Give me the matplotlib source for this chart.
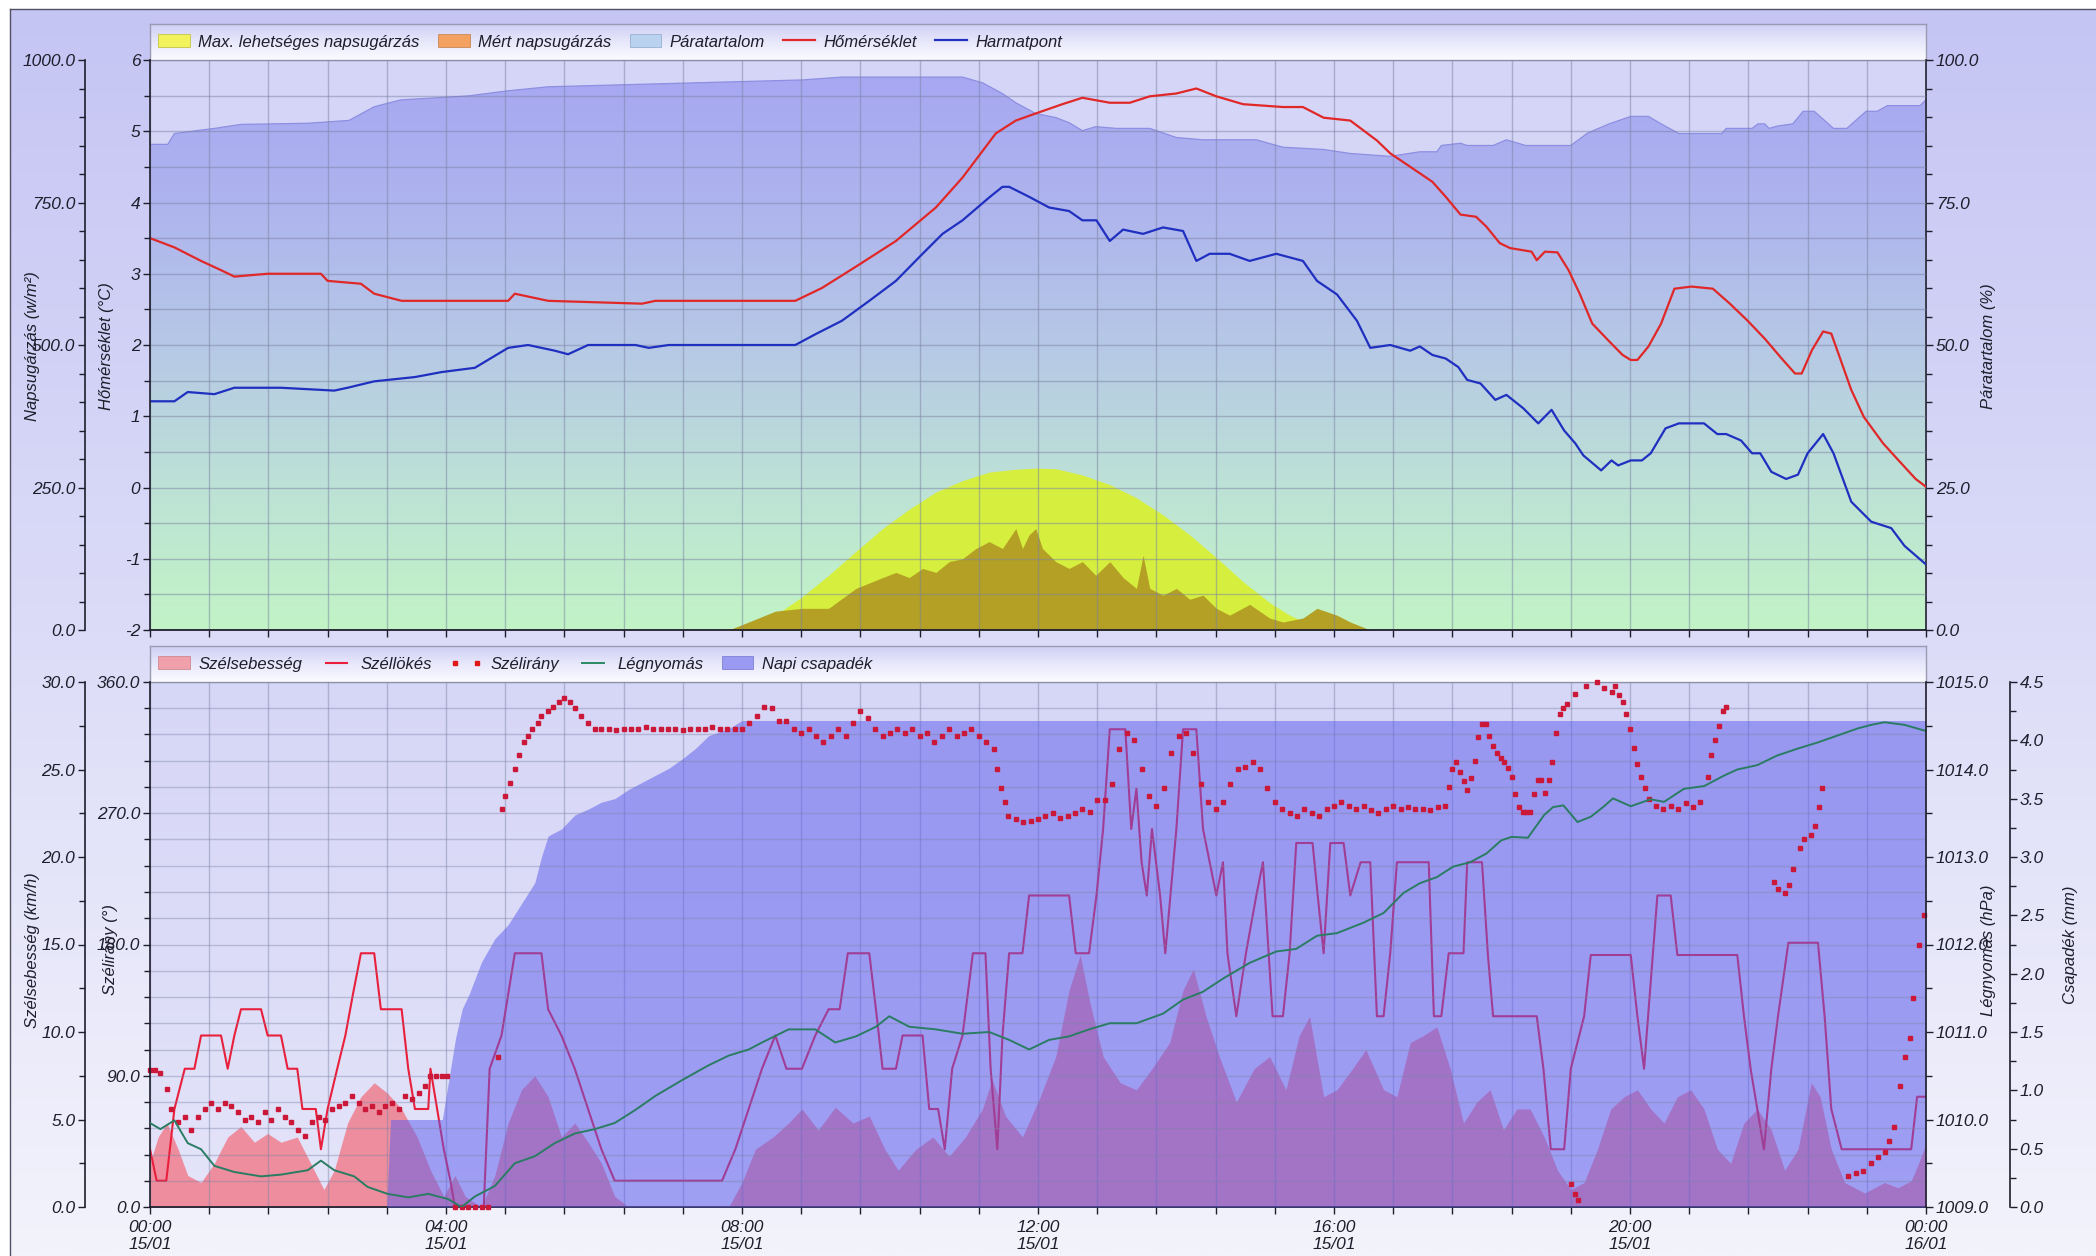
#!/usr/bin/env python3
"""
Napi időjárás grafikon (15/01):
  felső panel: napsugárzás, hőmérséklet, harmatpont, páratartalom
  alsó panel : szélsebesség, széllökés, szélirány, légnyomás, napi csapadék
"""

import matplotlib
matplotlib.use('Agg')
import matplotlib.pyplot as plt
from matplotlib.colors import LinearSegmentedColormap
from matplotlib.patches import Patch
from matplotlib.lines import Line2D
from matplotlib.ticker import MultipleLocator, FixedLocator, FormatStrFormatter
import numpy as np

# ── Style ────────────────────────────────────────────────────────────────────
plt.rcParams.update({
    'font.family': ['Liberation Sans Narrow', 'Liberation Sans', 'DejaVu Sans'],
    'font.style': 'italic',
    'font.size': 12.5,
    'axes.unicode_minus': False,
})

W, H, DPI = 2096, 1256, 100
INK = '#1e1e2c'
GRID = '#7c84a4'
TICK_FS = 12.5
LEGEND_FS = 12

# ── X axis (hours from 15/01 00:00) ─────────────────────────────────────────
HOUR_TICKS = [0, 4, 8, 12, 16, 20, 24]
TICK_LABELS = ['00:00\n15/01', '04:00\n15/01', '08:00\n15/01', '12:00\n15/01',
               '16:00\n15/01', '20:00\n15/01', '00:00\n16/01']

# ── Top panel data ───────────────────────────────────────────────────────────
TEMP_H = [0.00, 0.33, 0.69, 0.96, 1.14, 1.59, 2.31, 2.40, 2.85, 3.03,
          3.40, 4.84, 4.93, 5.38, 6.65, 6.83, 8.72, 9.08, 9.54, 10.08,
          10.62, 10.98, 11.43, 11.70, 11.97, 12.33, 12.60, 12.97, 13.24, 13.51,
          13.87, 14.14, 14.41, 14.77, 15.31, 15.58, 15.86, 16.22, 16.58, 16.76,
          17.16, 17.33, 17.51, 17.71, 17.92, 18.06, 18.24, 18.38, 18.67, 18.74,
          18.85, 19.02, 19.17, 19.32, 19.49, 19.72, 19.90, 20.01, 20.10, 20.25,
          20.42, 20.60, 20.83, 21.12, 21.35, 21.59, 21.82, 22.05, 22.23, 22.32,
          22.46, 22.61, 22.72, 22.84, 22.99, 23.16, 23.42, 23.63, 23.86, 24.00]
TEMP_V = [3.50, 3.37, 3.18, 3.05, 2.96, 3.00, 3.00, 2.90, 2.86, 2.72,
          2.62, 2.62, 2.72, 2.62, 2.58, 2.62, 2.62, 2.80, 3.10, 3.46,
          3.93, 4.35, 4.97, 5.15, 5.25, 5.38, 5.47, 5.40, 5.40, 5.49,
          5.53, 5.60, 5.49, 5.38, 5.34, 5.34, 5.19, 5.15, 4.87, 4.69,
          4.41, 4.29, 4.08, 3.83, 3.80, 3.66, 3.43, 3.36, 3.31, 3.19,
          3.31, 3.30, 3.05, 2.72, 2.30, 2.05, 1.86, 1.79, 1.79, 1.98,
          2.30, 2.79, 2.82, 2.79, 2.58, 2.34, 2.09, 1.81, 1.60, 1.60,
          1.93, 2.19, 2.16, 1.81, 1.37, 0.99, 0.62, 0.38, 0.12, 0.01]

DEW_H = [0.00, 0.33, 0.51, 0.87, 1.14, 1.77, 2.49, 2.67, 3.03, 3.58,
         3.94, 4.39, 4.84, 5.11, 5.47, 5.65, 5.92, 6.56, 6.74, 7.01,
         8.72, 8.99, 9.35, 9.72, 10.08, 10.44, 10.71, 10.98, 11.34, 11.52,
         11.61, 11.88, 12.15, 12.42, 12.60, 12.79, 12.97, 13.15, 13.42, 13.69,
         13.96, 14.14, 14.32, 14.59, 14.86, 15.22, 15.58, 15.77, 16.04, 16.31,
         16.49, 16.76, 17.03, 17.16, 17.33, 17.51, 17.68, 17.80, 17.98, 18.18,
         18.33, 18.56, 18.76, 18.94, 19.11, 19.26, 19.37, 19.61, 19.75, 19.84,
         20.01, 20.16, 20.28, 20.48, 20.66, 21.00, 21.18, 21.30, 21.50, 21.65,
         21.76, 21.91, 22.11, 22.27, 22.40, 22.61, 22.75, 22.99, 23.26, 23.53,
         23.71, 24.00]
DEW_V = [1.21, 1.21, 1.34, 1.31, 1.40, 1.40, 1.36, 1.40, 1.49, 1.55,
         1.62, 1.68, 1.96, 2.00, 1.92, 1.87, 2.00, 2.00, 1.96, 2.00,
         2.00, 2.15, 2.34, 2.62, 2.90, 3.28, 3.56, 3.75, 4.07, 4.22,
         4.22, 4.08, 3.93, 3.88, 3.75, 3.75, 3.46, 3.62, 3.56, 3.65,
         3.60, 3.18, 3.28, 3.28, 3.18, 3.28, 3.18, 2.90, 2.71, 2.34,
         1.96, 2.00, 1.92, 1.98, 1.86, 1.81, 1.69, 1.51, 1.46, 1.23,
         1.30, 1.11, 0.90, 1.09, 0.80, 0.62, 0.45, 0.24, 0.38, 0.31,
         0.38, 0.38, 0.48, 0.83, 0.90, 0.90, 0.75, 0.75, 0.66, 0.48,
         0.48, 0.22, 0.12, 0.18, 0.48, 0.75, 0.48, -0.20, -0.48, -0.57,
         -0.82, -1.08]

HUM_H = [0.00, 0.24, 0.33, 0.87, 1.23, 2.13, 2.69, 3.03, 3.39, 4.30,
         4.84, 5.38, 8.81, 9.35, 10.98, 11.25, 11.52, 11.70, 11.97, 12.24,
         12.42, 12.60, 12.78, 13.06, 13.51, 13.87, 14.23, 14.95, 15.31, 15.86,
         16.22, 16.76, 17.16, 17.39, 17.45, 17.71, 17.80, 18.15, 18.33, 18.59,
         19.20, 19.43, 19.72, 20.01, 20.25, 20.42, 20.66, 21.24, 21.30, 21.65,
         21.73, 21.82, 21.88, 21.99, 22.20, 22.34, 22.49, 22.75, 22.93, 23.19,
         23.34, 23.48, 23.92, 24.00]
HUM_V = [85.2, 85.2, 87.1, 88.0, 88.7, 88.9, 89.4, 91.8, 93.0, 93.7,
         94.6, 95.3, 96.5, 97.0, 97.0, 96.0, 94.1, 92.5, 90.6, 89.9,
         89.0, 87.6, 88.3, 88.0, 88.0, 86.4, 86.0, 86.0, 84.7, 84.3,
         83.6, 83.1, 83.9, 83.9, 85.0, 85.4, 85.0, 85.0, 86.0, 85.0,
         85.0, 87.2, 88.8, 90.1, 90.1, 88.8, 87.1, 87.1, 88.0, 88.0,
         88.8, 88.8, 88.0, 88.4, 88.8, 91.0, 91.0, 88.0, 88.0, 91.0,
         91.0, 92.0, 92.0, 93.0]

RAD_MAX_H = [7.82, 8.09, 8.45, 8.81, 9.17, 9.54, 9.90, 10.26, 10.62, 10.98,
             11.34, 11.70, 11.97, 12.24, 12.60, 12.97, 13.33, 13.69, 14.05, 14.41,
             14.77, 15.13, 15.40, 15.67, 16.04]
RAD_MAX_V = [0, 10, 26, 58, 96, 138, 178, 212, 242, 262,
             277, 282, 284, 283, 272, 255, 232, 202, 167, 127,
             85, 48, 26, 10, 0]

RAD_H = [7.82, 8.09, 8.45, 8.81, 9.17, 9.54, 9.90, 10.08, 10.26, 10.44,
         10.62, 10.80, 10.98, 11.16, 11.34, 11.52, 11.70, 11.79, 11.88, 11.97,
         12.06, 12.24, 12.42, 12.60, 12.78, 12.97, 13.15, 13.33, 13.42, 13.51,
         13.69, 13.87, 14.05, 14.23, 14.41, 14.59, 14.86, 15.13, 15.31, 15.58,
         15.77, 16.04, 16.22, 16.49]
RAD_V = [0, 14, 33, 38, 38, 73, 92, 101, 92, 108,
         101, 120, 125, 143, 155, 143, 178, 143, 167, 178,
         143, 120, 108, 120, 96, 120, 92, 73, 131, 73,
         61, 73, 54, 61, 38, 26, 45, 21, 14, 21,
         38, 26, 14, 0]

# ── Bottom panel data ────────────────────────────────────────────────────────
WS_H = [0.00, 0.11, 0.23, 0.38, 0.51, 0.69, 0.87, 1.05, 1.23, 1.41,
        1.59, 1.77, 1.99, 2.17, 2.35, 2.49, 2.67, 2.85, 3.03, 3.21,
        3.40, 3.61, 3.79, 3.97, 4.12, 4.26, 4.48, 4.66, 4.84, 5.02,
        5.20, 5.38, 5.56, 5.74, 5.92, 6.10, 6.28, 6.47, 7.82, 8.00,
        8.18, 8.42, 8.63, 8.81, 9.03, 9.26, 9.50, 9.72, 9.93, 10.11,
        10.35, 10.58, 10.80, 11.02, 11.25, 11.38, 11.56, 11.79, 12.03, 12.24,
        12.42, 12.57, 12.70, 12.88, 13.11, 13.33, 13.54, 13.78, 13.96, 14.10,
        14.27, 14.45, 14.68, 14.92, 15.13, 15.35, 15.53, 15.67, 15.86, 16.04,
        16.25, 16.43, 16.67, 16.85, 17.03, 17.21, 17.39, 17.57, 17.75, 17.93,
        18.11, 18.29, 18.47, 18.65, 18.84, 19.02, 19.20, 19.38, 19.56, 19.74,
        19.92, 20.10, 20.28, 20.46, 20.64, 20.82, 21.00, 21.18, 21.36, 21.54,
        21.72, 21.91, 22.09, 22.27, 22.45, 22.57, 22.72, 22.90, 23.17, 23.44,
        23.62, 23.80, 23.90, 24.00]
WS_V = [2.5, 4.0, 4.8, 3.3, 1.8, 1.4, 2.5, 4.0, 4.6, 3.7,
        4.2, 3.7, 4.0, 2.5, 1.0, 2.1, 4.8, 6.3, 7.1, 6.5,
        5.6, 4.0, 2.1, 0.6, 1.8, 0.6, 0.0, 1.8, 4.8, 6.7,
        7.5, 6.3, 4.0, 4.8, 3.7, 2.5, 0.6, 0.0, 0.0, 1.4,
        3.3, 4.0, 4.8, 5.6, 4.4, 5.7, 4.8, 5.2, 3.3, 2.1,
        3.3, 4.0, 2.9, 4.0, 5.6, 7.3, 5.2, 4.0, 6.3, 8.6,
        12.4, 14.4, 11.7, 8.6, 7.1, 6.7, 7.9, 9.4, 12.4, 13.6,
        10.9, 8.6, 6.0, 7.9, 8.6, 6.7, 9.8, 10.9, 6.3, 6.7,
        7.9, 9.0, 6.7, 6.3, 9.4, 9.8, 10.3, 7.9, 4.8, 6.0,
        6.7, 4.4, 5.6, 5.6, 4.0, 2.1, 1.0, 1.4, 3.3, 5.6,
        6.3, 6.7, 5.6, 4.8, 6.3, 6.7, 5.6, 3.3, 2.5, 4.8,
        5.6, 4.4, 2.1, 3.3, 7.1, 6.3, 3.3, 1.4, 0.8, 1.4,
        1.1, 1.5, 2.5, 3.6]

GUST_H = [0.00, 0.09, 0.22, 0.33, 0.47, 0.60, 0.69, 0.96, 1.05, 1.14,
          1.23, 1.50, 1.59, 1.77, 1.86, 1.99, 2.06, 2.24, 2.31, 2.40,
          2.53, 2.64, 2.74, 2.85, 3.03, 3.12, 3.40, 3.49, 3.58, 3.76,
          3.79, 3.88, 3.97, 4.06, 4.12, 4.51, 4.59, 4.75, 4.93, 5.29,
          5.38, 5.56, 5.74, 5.92, 6.10, 6.28, 7.73, 7.91, 8.09, 8.27,
          8.45, 8.60, 8.81, 8.99, 9.17, 9.32, 9.43, 9.72, 9.81, 9.90,
          10.08, 10.17, 10.44, 10.53, 10.65, 10.74, 10.84, 10.98, 11.12, 11.29,
          11.36, 11.45, 11.52, 11.61, 11.79, 11.88, 12.42, 12.51, 12.69, 12.79,
          12.88, 12.97, 13.18, 13.26, 13.33, 13.40, 13.47, 13.54, 13.65, 13.72,
          13.87, 13.96, 14.14, 14.23, 14.32, 14.41, 14.50, 14.56, 14.68, 14.81,
          14.95, 15.04, 15.17, 15.31, 15.40, 15.49, 15.71, 15.78, 15.86, 15.95,
          16.13, 16.22, 16.36, 16.49, 16.58, 16.67, 16.76, 16.85, 17.28, 17.35,
          17.45, 17.55, 17.75, 17.80, 18.00, 18.08, 18.15, 18.74, 18.83, 18.93,
          19.11, 19.20, 19.38, 19.47, 20.01, 20.10, 20.19, 20.37, 20.55, 20.64,
          21.45, 21.54, 21.63, 21.81, 21.91, 22.00, 22.14, 22.54, 22.63, 22.72,
          22.86, 23.80, 23.88, 24.00]
GUST_V = [3.3, 1.5, 1.5, 5.6, 7.9, 7.9, 9.8, 9.8, 7.9, 9.8,
          11.3, 11.3, 9.8, 9.8, 7.9, 7.9, 5.6, 5.6, 3.3, 5.6,
          7.9, 9.8, 12.1, 14.5, 14.5, 11.3, 11.3, 7.9, 5.6, 5.6,
          7.9, 5.6, 3.3, 1.5, 0.0, 0.0, 7.9, 9.8, 14.5, 14.5,
          11.3, 9.8, 7.9, 5.6, 3.3, 1.5, 1.5, 3.3, 5.6, 7.9,
          9.8, 7.9, 7.9, 9.8, 11.3, 11.3, 14.5, 14.5, 11.3, 7.9,
          7.9, 9.8, 9.8, 5.6, 5.6, 3.3, 7.9, 9.8, 14.5, 14.5,
          7.9, 3.3, 9.8, 14.5, 14.5, 17.8, 17.8, 14.5, 14.5, 17.8,
          21.6, 27.3, 27.3, 21.6, 23.9, 19.7, 17.8, 21.6, 17.8, 14.5,
          21.6, 27.3, 27.3, 21.6, 19.7, 17.8, 19.7, 14.5, 10.9, 14.5,
          17.8, 19.7, 10.9, 10.9, 14.5, 20.8, 20.8, 17.8, 14.5, 20.8,
          20.8, 17.8, 19.7, 19.7, 10.9, 10.9, 14.5, 19.7, 19.7, 10.9,
          10.9, 14.5, 14.5, 19.7, 19.7, 14.4, 10.9, 10.9, 7.9, 3.3,
          3.3, 7.9, 10.9, 14.4, 14.4, 10.9, 7.9, 17.8, 17.8, 14.4,
          14.4, 10.9, 7.9, 3.3, 7.9, 10.9, 15.1, 15.1, 10.9, 5.6,
          3.3, 3.3, 6.3, 6.3]

# wind direction samples: (hour, degrees)
WIND_DIR = [
    (0.00, 94), (0.07, 94), (0.14, 92), (0.23, 81), (0.29, 67), (0.38, 58),
    (0.47, 62), (0.56, 53), (0.65, 62), (0.74, 67), (0.83, 71), (0.92, 67),
    (1.01, 71), (1.10, 69), (1.19, 65), (1.28, 60), (1.37, 62), (1.46, 58),
    (1.55, 65), (1.64, 60), (1.73, 67), (1.82, 62), (1.91, 58), (2.00, 53),
    (2.09, 49), (2.19, 58), (2.28, 62), (2.37, 60), (2.46, 67), (2.55, 69),
    (2.64, 71), (2.73, 76), (2.82, 71), (2.91, 67), (3.00, 69), (3.09, 65),
    (3.18, 69), (3.27, 71), (3.36, 67), (3.45, 76), (3.54, 74), (3.63, 78),
    (3.72, 83), (3.79, 90), (3.86, 90), (3.94, 90), (4.01, 90),
    (4.12, 0), (4.21, 0), (4.30, 0), (4.39, 0), (4.48, 0), (4.57, 0),
    (4.70, 103), (4.75, 273), (4.80, 282), (4.86, 291), (4.93, 300), (4.98, 310),
    (5.06, 319), (5.11, 323), (5.16, 328), (5.24, 332), (5.29, 337), (5.38, 340),
    (5.45, 343), (5.53, 346), (5.60, 349), (5.67, 346), (5.74, 342), (5.83, 337),
    (5.92, 332), (6.01, 328), (6.10, 328), (6.20, 328), (6.30, 327), (6.40, 328),
    (6.50, 328), (6.60, 328), (6.70, 329), (6.80, 328), (6.90, 328), (7.00, 328),
    (7.10, 328), (7.20, 327), (7.30, 328), (7.40, 328), (7.50, 328), (7.60, 329),
    (7.70, 328), (7.80, 328), (7.90, 328), (8.00, 328),
    (8.10, 332), (8.20, 337), (8.30, 343), (8.40, 342), (8.50, 333), (8.60, 333),
    (8.70, 328), (8.80, 325), (8.90, 328), (9.00, 323), (9.10, 319), (9.20, 323),
    (9.30, 328), (9.40, 323), (9.50, 332), (9.60, 340), (9.70, 335), (9.80, 328),
    (9.90, 323), (10.00, 325), (10.10, 328), (10.20, 325), (10.30, 328), (10.40, 323),
    (10.50, 325), (10.60, 319), (10.70, 323), (10.80, 328), (10.90, 323), (11.00, 325),
    (11.10, 328), (11.20, 323), (11.30, 319), (11.40, 314), (11.45, 300), (11.50, 287),
    (11.55, 278), (11.60, 268), (11.70, 266), (11.80, 264), (11.90, 265), (12.00, 266),
    (12.10, 268), (12.20, 270), (12.30, 267), (12.40, 268), (12.50, 270), (12.60, 273),
    (12.70, 271), (12.80, 279), (12.90, 279), (13.00, 290), (13.10, 314), (13.20, 325),
    (13.30, 320), (13.40, 300), (13.50, 282), (13.60, 275), (13.70, 287), (13.80, 311),
    (13.90, 323), (14.00, 325), (14.10, 311), (14.20, 290), (14.30, 278), (14.40, 273),
    (14.50, 278), (14.60, 290), (14.70, 300), (14.80, 302), (14.90, 305), (15.00, 300),
    (15.10, 287), (15.20, 278), (15.30, 273), (15.40, 270), (15.50, 268), (15.60, 273),
    (15.70, 270), (15.80, 268), (15.90, 273), (16.00, 275), (16.10, 278), (16.20, 275),
    (16.30, 273), (16.40, 275), (16.50, 272), (16.60, 270), (16.70, 273), (16.80, 275),
    (16.90, 273), (17.00, 274), (17.10, 273), (17.20, 273), (17.30, 272), (17.40, 274),
    (17.50, 275), (17.55, 288), (17.60, 300), (17.65, 305), (17.70, 298), (17.75, 292),
    (17.80, 286), (17.85, 294), (17.90, 306), (17.95, 322), (18.00, 331), (18.05, 331),
    (18.10, 323), (18.15, 316), (18.20, 311), (18.25, 308), (18.30, 305), (18.35, 301),
    (18.40, 295), (18.45, 283), (18.50, 274), (18.55, 271), (18.60, 271), (18.65, 271),
    (18.70, 283), (18.75, 293), (18.80, 293), (18.85, 284), (18.90, 293), (18.95, 305),
    (19.00, 325), (19.05, 338), (19.10, 342), (19.15, 345), (19.20, 16), (19.25, 9),
    (19.30, 5), (19.25, 352), (19.40, 357), (19.55, 360), (19.65, 356), (19.75, 353),
    (19.80, 357), (19.85, 351), (19.90, 346), (19.95, 338), (20.00, 328), (20.05, 315),
    (20.10, 304), (20.15, 295), (20.20, 287), (20.25, 280), (20.35, 275), (20.45, 273),
    (20.55, 275), (20.65, 273), (20.75, 277), (20.85, 274), (20.95, 278), (21.05, 295),
    (21.10, 310), (21.15, 320), (21.20, 330), (21.25, 340), (21.30, 343),
    (21.95, 223), (22.00, 218), (22.10, 215), (22.15, 221), (22.20, 232), (22.30, 246),
    (22.35, 252), (22.45, 255), (22.50, 261), (22.55, 274), (22.60, 287),
    (22.95, 21), (23.05, 23), (23.15, 25), (23.25, 30), (23.35, 34), (23.45, 38),
    (23.50, 45), (23.57, 55), (23.65, 83), (23.72, 103), (23.78, 116), (23.83, 143),
    (23.91, 180), (23.97, 200),
]
WD_H = [h for h, _ in WIND_DIR]
WD_V = [d for _, d in WIND_DIR]

PRES_H = [0.00, 0.14, 0.33, 0.51, 0.69, 0.87, 1.14, 1.50, 1.77, 2.13,
          2.31, 2.49, 2.76, 2.94, 3.21, 3.49, 3.76, 4.03, 4.21, 4.39,
          4.66, 4.93, 5.20, 5.47, 5.74, 6.01, 6.28, 6.56, 6.83, 7.19,
          7.55, 7.82, 8.09, 8.27, 8.63, 8.99, 9.26, 9.54, 9.81, 9.99,
          10.26, 10.62, 10.98, 11.34, 11.61, 11.88, 12.15, 12.42, 12.69, 12.97,
          13.33, 13.69, 13.96, 14.23, 14.50, 14.86, 15.22, 15.49, 15.77, 16.04,
          16.40, 16.67, 16.94, 17.16, 17.39, 17.61, 17.84, 18.06, 18.26, 18.40,
          18.62, 18.84, 18.96, 19.10, 19.29, 19.47, 19.65, 19.77, 20.01, 20.28,
          20.46, 20.73, 21.00, 21.27, 21.45, 21.72, 21.99, 22.27, 22.54, 22.81,
          23.08, 23.26, 23.44, 23.71, 24.00]
PRES_V = [1009.96, 1009.89, 1009.99, 1009.73, 1009.66, 1009.47, 1009.40, 1009.35, 1009.37, 1009.42,
          1009.53, 1009.42, 1009.35, 1009.23, 1009.15, 1009.11, 1009.15, 1009.09, 1009.00, 1009.12,
          1009.24, 1009.50, 1009.58, 1009.73, 1009.84, 1009.89, 1009.96, 1010.11, 1010.27, 1010.45,
          1010.62, 1010.73, 1010.80, 1010.88, 1011.03, 1011.03, 1010.88, 1010.95, 1011.06, 1011.18,
          1011.06, 1011.03, 1010.98, 1011.00, 1010.91, 1010.80, 1010.91, 1010.95, 1011.03, 1011.10,
          1011.10, 1011.21, 1011.37, 1011.46, 1011.61, 1011.79, 1011.92, 1011.95, 1012.10, 1012.13,
          1012.25, 1012.36, 1012.59, 1012.70, 1012.77, 1012.89, 1012.94, 1013.04, 1013.19, 1013.23,
          1013.22, 1013.48, 1013.57, 1013.59, 1013.40, 1013.46, 1013.58, 1013.67, 1013.58, 1013.66,
          1013.63, 1013.78, 1013.81, 1013.93, 1014.00, 1014.05, 1014.16, 1014.24, 1014.31, 1014.39,
          1014.47, 1014.51, 1014.54, 1014.51, 1014.44]

PREC_H = [0.00, 3.20, 3.25, 3.95, 4.04, 4.13, 4.22, 4.31, 4.48, 4.66,
          4.84, 5.02, 5.20, 5.29, 5.38, 5.56, 5.74, 5.92, 6.10, 6.28,
          6.47, 6.65, 6.83, 7.01, 7.19, 7.37, 7.55, 7.82, 8.00, 24.00]
PREC_V = [0.00, 0.00, 0.75, 0.75, 1.10, 1.45, 1.70, 1.82, 2.10, 2.30,
          2.42, 2.60, 2.78, 3.00, 3.18, 3.24, 3.36, 3.41, 3.47, 3.50,
          3.58, 3.64, 3.70, 3.76, 3.84, 3.93, 4.04, 4.10, 4.17, 4.17]


# ── helpers ──────────────────────────────────────────────────────────────────
fig = plt.figure(figsize=(W / DPI, H / DPI), dpi=DPI, facecolor='white')


def box(left, top, right, bottom):
    """pixel box (from top-left) -> figure rect"""
    return [left / W, 1 - bottom / H, (right - left) / W, (bottom - top) / H]


def vgrad(colors, n=256):
    """vertical RGBA gradient, colors listed bottom -> top"""
    cmap = LinearSegmentedColormap.from_list('g', colors)
    return cmap(np.linspace(1, 0, n))[:, None, :]


def gradient_panel(rect, colors, zorder, edge=None, sides=('left', 'right', 'top', 'bottom')):
    a = fig.add_axes(rect, zorder=zorder)
    a.imshow(vgrad(colors), aspect='auto', extent=(0, 1, 0, 1), interpolation='bilinear')
    a.set_xlim(0, 1)
    a.set_ylim(0, 1)
    a.set_xticks([])
    a.set_yticks([])
    for name, sp in a.spines.items():
        if edge and name in sides:
            sp.set_color(edge)
            sp.set_linewidth(1.0)
        else:
            sp.set_visible(False)
    return a


def setup_y(ax, side, lim, major, minor, fmt, offset_px=0):
    ax.set_ylim(*lim)
    for sp in ax.spines.values():
        sp.set_visible(False)
    spine = ax.spines[side]
    spine.set_visible(True)
    spine.set_color(INK)
    spine.set_linewidth(1.2)
    if offset_px:
        spine.set_position(('outward', offset_px * 72 / DPI))
    if side == 'left':
        ax.yaxis.tick_left()
    else:
        ax.yaxis.tick_right()
    ax.yaxis.set_label_position(side)
    ax.yaxis.set_major_locator(MultipleLocator(major))
    ax.yaxis.set_minor_locator(MultipleLocator(minor))
    ax.yaxis.set_major_formatter(FormatStrFormatter(fmt))
    ax.tick_params(axis='y', which='both', direction='out', color=INK,
                   labelcolor=INK, labelsize=TICK_FS, pad=2, width=1)
    ax.tick_params(axis='y', which='major', length=5)
    ax.tick_params(axis='y', which='minor', length=4)


def setup_x(ax, labels):
    ax.set_xlim(0, 24)
    ax.xaxis.set_major_locator(FixedLocator(HOUR_TICKS))
    ax.xaxis.set_minor_locator(MultipleLocator(0.8))
    sp = ax.spines['bottom']
    sp.set_visible(True)
    sp.set_color(INK)
    sp.set_linewidth(1.3)
    ax.tick_params(axis='x', which='both', direction='out', length=5, width=1,
                   color=INK, labelcolor=INK, labelsize=TICK_FS, pad=4,
                   labelbottom=labels)
    if labels:
        ax.set_xticklabels(TICK_LABELS)


def side_label(x, y, text):
    fig.text(x / W, 1 - y / H, text, rotation=90, ha='center', va='center',
             fontsize=12, color=INK)


# ── backgrounds and legend bands ─────────────────────────────────────────────
gradient_panel([10 / W, 0, 1 - 10 / W, 1 - 9 / H], ['#f3f3fc', '#dcdcf8', '#c5c5f4'],
               zorder=-3, edge='#505064', sides=('left', 'top'))
band_top = gradient_panel(box(150, 24, 1926, 60), ['#fbfbff', '#e8e8fb', '#cfcff6'], 1, edge='#9a9ab0')
band_bot = gradient_panel(box(150, 646, 1926, 682), ['#fbfbff', '#e8e8fb', '#cfcff6'], 1, edge='#9a9ab0')
gradient_panel(box(150, 60, 1926, 630), ['#d0dcf0', '#d6d6f8'], 0)
gradient_panel(box(150, 682, 1926, 1207), ['#e4e4fa', '#dddcf8', '#d6d6f6'], 0)

# ─────────────────────────────────────────────────────────────────────────────
# TOP PANEL
# ─────────────────────────────────────────────────────────────────────────────
ax_t = fig.add_axes(box(150, 60, 1926, 630))   # temperature
ax_h = ax_t.twinx()                              # humidity
ax_r = ax_t.twinx()                              # solar radiation
ax_h.set_zorder(1)
ax_r.set_zorder(2)
ax_t.set_zorder(3)
for a in (ax_t, ax_h, ax_r):
    a.patch.set_visible(False)

# humidity: gradient fill clipped to the area under the curve
hum_fill = ax_h.fill_between(HUM_H, 0, HUM_V, facecolor='none', edgecolor='none')
hum_img = ax_h.imshow(vgrad(['#c2f4c6', '#bde2d6', '#b6c8e6', '#aeb4ee', '#a6a6f2']),
                      extent=(0, 24, 0, 100), aspect='auto', zorder=1,
                      interpolation='bilinear')
hum_img.set_clip_path(hum_fill.get_paths()[0], transform=ax_h.transData)
ax_h.plot(HUM_H, HUM_V, color='#8e8ee2', lw=0.9, zorder=2)

ax_r.fill_between(RAD_MAX_H, 0, RAD_MAX_V, color='#d6ef3e', lw=0)
ax_r.fill_between(RAD_H, 0, RAD_V, color='#b3a024', lw=0)

ax_t.plot(TEMP_H, TEMP_V, color='#e02828', lw=1.6)
ax_t.plot(DEW_H, DEW_V, color='#1f2fc0', lw=1.6)

setup_y(ax_t, 'left', (-2, 6), 1, 0.5, '%d')
setup_y(ax_r, 'left', (0, 1000), 250, 50, '%.1f', offset_px=65)
setup_y(ax_h, 'right', (0, 100), 25, 5, '%.1f')
setup_x(ax_t, labels=False)
ax_t.grid(which='both', color=GRID, lw=1.0, alpha=0.5)

# ─────────────────────────────────────────────────────────────────────────────
# BOTTOM PANEL
# ─────────────────────────────────────────────────────────────────────────────
ax_s = fig.add_axes(box(150, 682, 1926, 1207))  # wind speed / gust
ax_c = ax_s.twinx()                               # precipitation
ax_d = ax_s.twinx()                               # wind direction
ax_p = ax_s.twinx()                               # pressure
for z, a in enumerate((ax_s, ax_c, ax_d, ax_p), start=1):
    a.set_zorder(z)
    a.patch.set_visible(False)

ax_s.fill_between(WS_H, 0, WS_V, color='#f07888', alpha=0.8, lw=0)
ax_s.plot(GUST_H, GUST_V, color='#e8203c', lw=1.5)
ax_c.fill_between(PREC_H, 0, PREC_V, color='#5a5aee', alpha=0.5, lw=0)
ax_d.plot(WD_H, WD_V, ls='none', marker='s', ms=2.8, color='#cc1838', clip_on=False)
ax_p.plot(PRES_H, PRES_V, color='#2a7c62', lw=1.4)

setup_y(ax_s, 'left', (0, 30), 5, 2.5, '%.1f', offset_px=65)
setup_y(ax_d, 'left', (0, 360), 90, 18, '%.1f')
setup_y(ax_p, 'right', (1009, 1015), 1, 0.5, '%.1f')
setup_y(ax_c, 'right', (0, 4.5), 0.5, 0.25, '%.1f', offset_px=84)
setup_x(ax_s, labels=True)
ax_s.grid(axis='x', which='both', color=GRID, lw=1.0, alpha=0.45)
ax_c.grid(False)
ax_d.grid(axis='y', which='both', color=GRID, lw=1.0, alpha=0.4)

# ── axis titles ──────────────────────────────────────────────────────────────
side_label(33, 346, 'Napsugárzás (w/m²)')
side_label(107, 346, 'Hőmérséklet (°C)')
side_label(1988, 346, 'Páratartalom (%)')
side_label(33, 950, 'Szélsebesség (km/h)')
side_label(110, 950, 'Szélirány (°)')
side_label(1988, 950, 'Légnyomás (hPa)')
side_label(2070, 945, 'Csapadék (mm)')

# ── legends ──────────────────────────────────────────────────────────────────
top_handles = [
    Patch(facecolor='#f2f25c', edgecolor='#c4c44a', lw=0.6),
    Patch(facecolor='#f4a262', edgecolor='#c8885a', lw=0.6),
    Patch(facecolor='#b8d2f0', edgecolor='#98b0d0', lw=0.6),
    Line2D([], [], color='#e02828', lw=1.6),
    Line2D([], [], color='#1f2fc0', lw=1.6),
]
top_labels = ['Max. lehetséges napsugárzás', 'Mért napsugárzás', 'Páratartalom',
              'Hőmérséklet', 'Harmatpont']
band_top.legend(top_handles, top_labels, loc='center left', ncol=5, frameon=False,
                fontsize=LEGEND_FS, handlelength=1.9, handleheight=0.8, handletextpad=0.5,
                columnspacing=1.1, borderaxespad=0.1, labelcolor=INK)

bot_handles = [
    Patch(facecolor='#f0a0aa', edgecolor='#d08890', lw=0.6),
    Line2D([], [], color='#e8203c', lw=1.5),
    Line2D([], [], color='#e01818', ls='none', marker='s', ms=3),
    Line2D([], [], color='#2a8a62', lw=1.4),
    Patch(facecolor='#9a9af2', edgecolor='#8080d8', lw=0.6),
]
bot_labels = ['Szélsebesség', 'Széllökés', 'Szélirány', 'Légnyomás', 'Napi csapadék']
band_bot.legend(bot_handles, bot_labels, loc='center left', ncol=5, frameon=False,
                fontsize=LEGEND_FS, handlelength=1.9, handleheight=0.8, handletextpad=0.5,
                columnspacing=1.1, borderaxespad=0.1, numpoints=2, labelcolor=INK)

fig.savefig('out.png', dpi=DPI)
